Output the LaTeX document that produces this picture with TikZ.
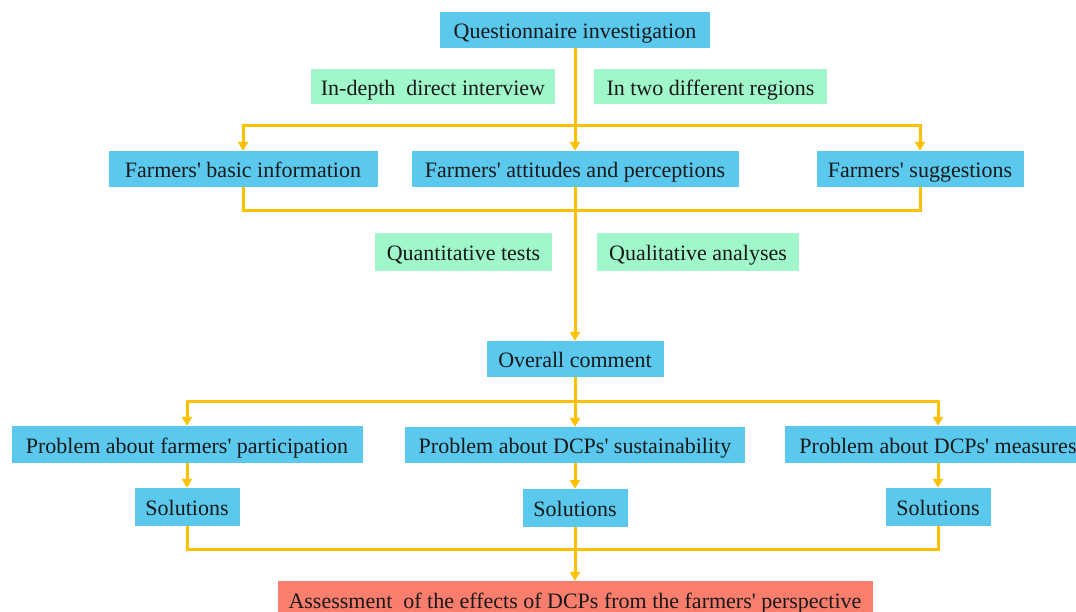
\documentclass[tikz,border=0pt]{standalone}
\usepackage{fontspec}
\setmainfont{Liberation Serif}
\usetikzlibrary{arrows.meta}
\definecolor{boxblue}{HTML}{5BC8EE}
\definecolor{boxgreen}{HTML}{A0F7CA}
\definecolor{lineorange}{HTML}{FFC000}
\definecolor{boxred}{HTML}{FA7E6E}
\newcommand{\ap}{\textquotesingle}
\begin{document}
\begin{tikzpicture}[x=1pt,y=-1pt,
  box/.style={inner sep=0pt, font=\fontsize{22}{24}\selectfont, text=black!90, align=center, text height=21.5pt, text depth=4pt},
  bluebox/.style={box, fill=boxblue},
  greenbox/.style={box, fill=boxgreen},
  redbox/.style={box, fill=boxred},
  conn/.style={draw=lineorange, line width=3pt},
  arr/.style={conn, -{Triangle[length=9pt,width=10pt]}}
]
\useasboundingbox (0,0) rectangle (1076,612);
% top
\node[bluebox, minimum width=270pt, minimum height=36pt] (q) at (575,30) {Questionnaire investigation};
\node[greenbox, minimum width=244pt, minimum height=35pt] (g1) at (433,86.5) {In-depth\ \ direct interview};
\node[greenbox, minimum width=233pt, minimum height=35pt] (g2) at (710.5,86.5) {In two different regions};
\node[bluebox, minimum width=269pt, minimum height=36pt] (f1) at (243,169) {Farmers\ap\ basic information};
\node[bluebox, minimum width=327pt, minimum height=36pt] (f2) at (575,169) {Farmers\ap\ attitudes and perceptions};
\node[bluebox, minimum width=207pt, minimum height=36pt] (f3) at (920,169) {Farmers\ap\ suggestions};
\node[greenbox, minimum width=177pt, minimum height=38pt] (g3) at (463.5,252) {Quantitative tests};
\node[greenbox, minimum width=202pt, minimum height=38pt] (g4) at (698,252) {Qualitative analyses};
\node[bluebox, minimum width=177pt, minimum height=36pt] (o) at (575,359) {Overall comment};
\node[bluebox, minimum width=351pt, minimum height=37pt] (p1) at (187,444.5) {Problem about farmers\ap\ participation};
\node[bluebox, minimum width=340pt, minimum height=36pt] (p2) at (575,445) {Problem about DCPs\ap\ sustainability};
\node[bluebox, minimum width=306pt, minimum height=37pt] (p3) at (938,444.5) {Problem about DCPs\ap\ measures};
\node[bluebox, minimum width=105pt, minimum height=38pt] (s1) at (187,507) {Solutions};
\node[bluebox, minimum width=105pt, minimum height=38pt] (s2) at (575,508) {Solutions};
\node[bluebox, minimum width=105pt, minimum height=38pt] (s3) at (938,507) {Solutions};
\node[redbox, minimum width=595pt, minimum height=38pt] (a) at (575,600) {Assessment\ \ of the effects of DCPs from the farmers\ap\ perspective};
% connectors
\coordinate (j1) at (575,126);
\coordinate (j2) at (575,211);
\coordinate (j3) at (575,401);
\coordinate (j4) at (575,549);
\draw[arr] (q.south) -- (f2.north);
\draw[arr] (j1) -| (f1.north);
\draw[arr] (j1) -| (f3.north);
\draw[conn] (f1.south) |- (j2);
\draw[conn] (f3.south) |- (j2);
\draw[arr] (f2.south) -- (o.north);
\draw[arr] (o.south) -- (p2.north);
\draw[arr] (j3) -| (p1.north);
\draw[arr] (j3) -| (p3.north);
\draw[arr] (p1.south) -- (s1.north);
\draw[arr] (p2.south) -- (s2.north);
\draw[arr] (p3.south) -- (s3.north);
\draw[conn] (s1.south) |- (j4);
\draw[conn] (s3.south) |- (j4);
\draw[arr] (s2.south) -- (a.north);
\end{tikzpicture}
\end{document}
